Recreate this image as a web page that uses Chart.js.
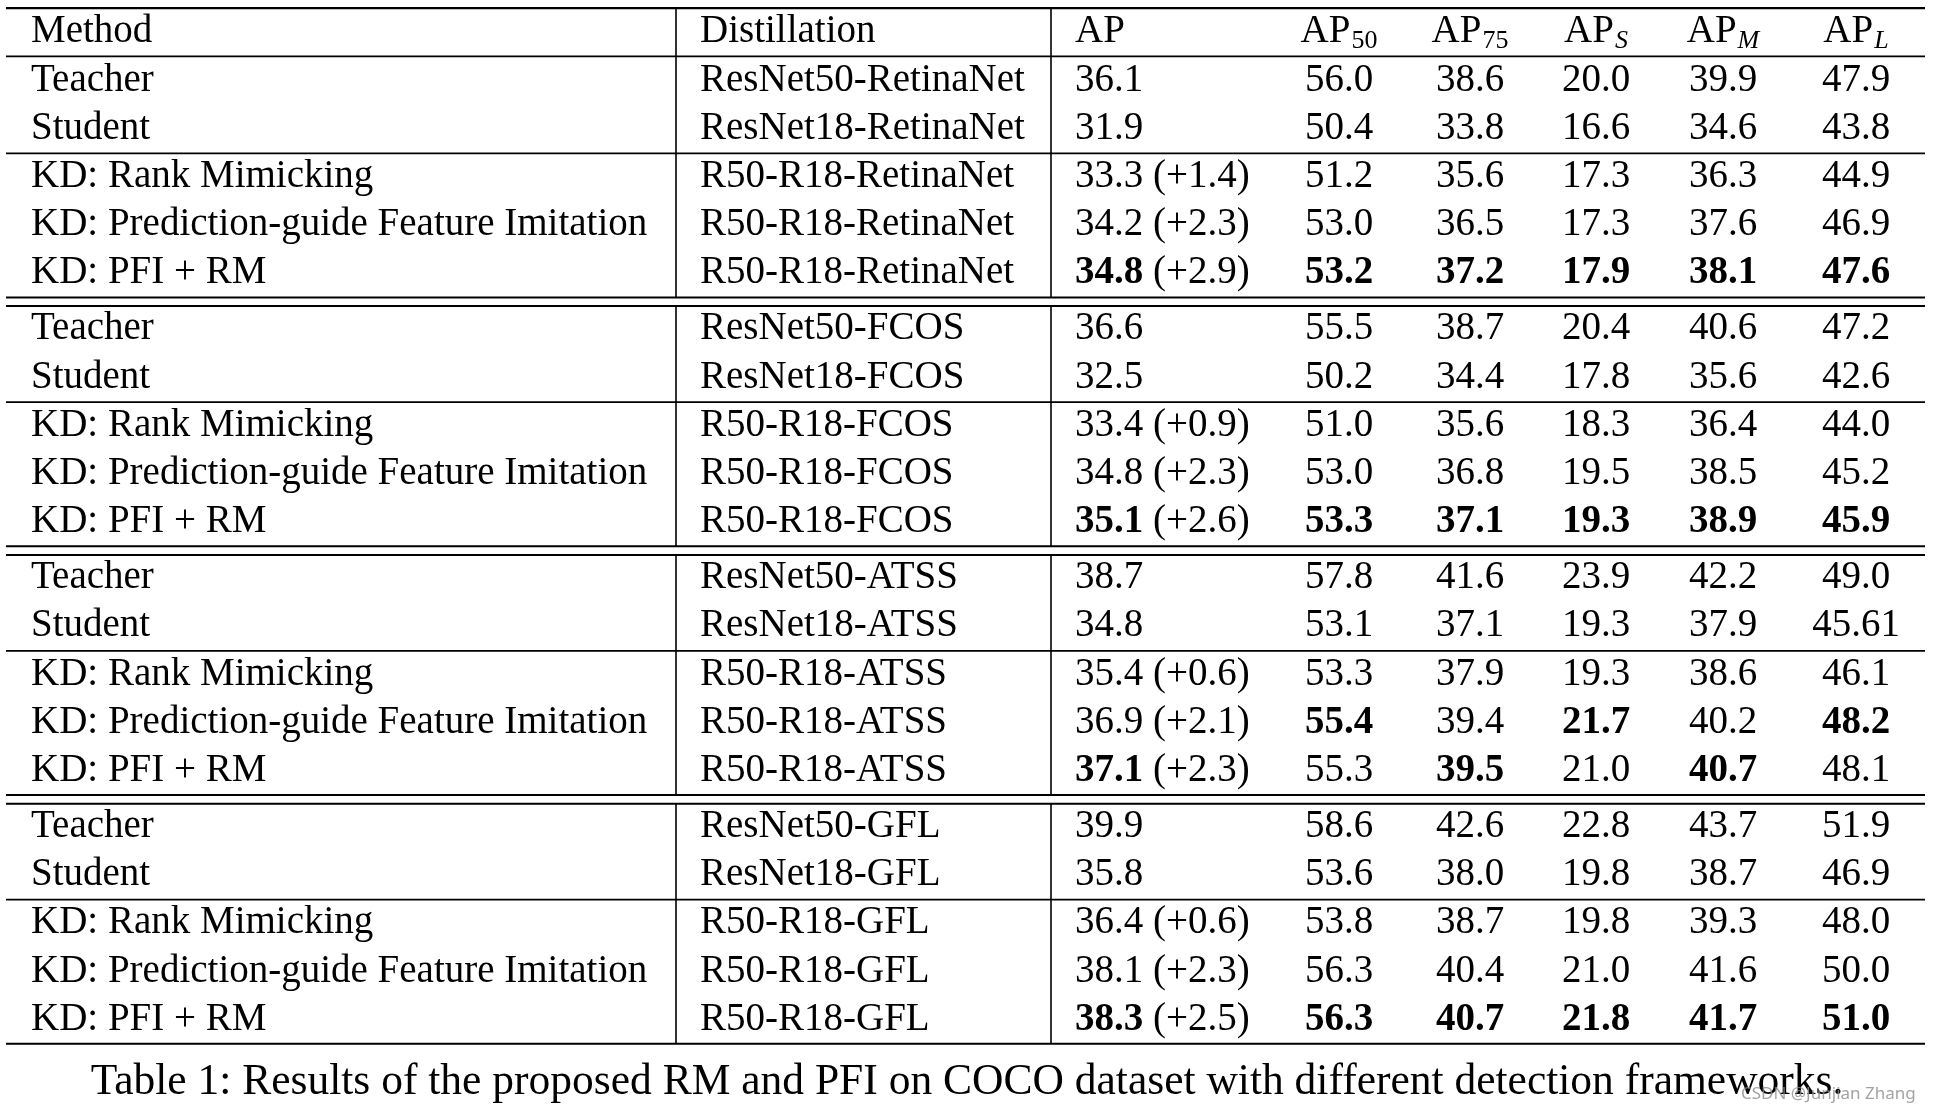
<!DOCTYPE html>
<html>
<head>
<meta charset="utf-8">
<script src="https://cdn.jsdelivr.net/npm/chart.js@4.4.1/dist/chart.umd.min.js"></script>
<style>
	html, body { margin: 0; padding: 0; background: #fff; }
	canvas { display: block; }
</style>
</head>
<body>
<canvas id="TableChart" width="1938" height="1110"></canvas>
<script>
// table content
const frameworks = ["RetinaNet", "FCOS", "ATSS", "GFL"]
const methods = ["Teacher", "Student", "KD: Rank Mimicking", "KD: Prediction-guide Feature Imitation", "KD: PFI + RM"]
const distillPrefix = ["ResNet50-", "ResNet18-", "R50-R18-", "R50-R18-", "R50-R18-"]

const headerMain = ["Method", "Distillation", "AP", "AP", "AP", "AP", "AP", "AP"]
const headerSub = ["", "", "", "50", "75", "S", "M", "L"]

const apValues = [
	36.1, 31.9, 33.3, 34.2, 34.8,
	36.6, 32.5, 33.4, 34.8, 35.1,
	38.7, 34.8, 35.4, 36.9, 37.1,
	39.9, 35.8, 36.4, 38.1, 38.3,
]
const apGain = [
	"", "", "+1.4", "+2.3", "+2.9",
	"", "", "+0.9", "+2.3", "+2.6",
	"", "", "+0.6", "+2.1", "+2.3",
	"", "", "+0.6", "+2.3", "+2.5",
]
const ap50 = [
	56.0, 50.4, 51.2, 53.0, 53.2,
	55.5, 50.2, 51.0, 53.0, 53.3,
	57.8, 53.1, 53.3, 55.4, 55.3,
	58.6, 53.6, 53.8, 56.3, 56.3,
]
const ap75 = [
	38.6, 33.8, 35.6, 36.5, 37.2,
	38.7, 34.4, 35.6, 36.8, 37.1,
	41.6, 37.1, 37.9, 39.4, 39.5,
	42.6, 38.0, 38.7, 40.4, 40.7,
]
const apS = [
	20.0, 16.6, 17.3, 17.3, 17.9,
	20.4, 17.8, 18.3, 19.5, 19.3,
	23.9, 19.3, 19.3, 21.7, 21.0,
	22.8, 19.8, 19.8, 21.0, 21.8,
]
const apM = [
	39.9, 34.6, 36.3, 37.6, 38.1,
	40.6, 35.6, 36.4, 38.5, 38.9,
	42.2, 37.9, 38.6, 40.2, 40.7,
	43.7, 38.7, 39.3, 41.6, 41.7,
]
const apL = [
	47.9, 43.8, 44.9, 46.9, 47.6,
	47.2, 42.6, 44.0, 45.2, 45.9,
	49.0, 45.61, 46.1, 48.2, 48.1,
	51.9, 46.9, 48.0, 50.0, 51.0,
]
// cells typeset in bold
const ALL = ["ap", "ap50", "ap75", "apS", "apM", "apL"]
const best = [
	[], [], [], [], ALL,
	[], [], [], [], ALL,
	[], [], [], ["ap50", "apS", "apL"], ["ap", "ap75", "apM"],
	[], [], [], [], ALL,
]
const caption = "Table 1: Results of the proposed RM and PFI on COCO dataset with different detection frameworks."
const watermark = "CSDN @Junjian Zhang"

// layout
const SERIF = '"Liberation Serif", "Times New Roman", serif'
const FONT_SIZE = 39
const SUB_SIZE = 26
const CAPTION_SIZE = 43.5
const BASE_DY = 13.5
const GROUP_GAP = 0.162
const columns = ["method", "distill", "ap", "ap50", "ap75", "apS", "apM", "apL"]
const colX = { method: 31, distill: 700, ap: 1075, ap50: 1339, ap75: 1470, apS: 1596, apM: 1723, apL: 1856 }
const colAlign = { method: "left", distill: "left", ap: "left", ap50: "center", ap75: "center", apS: "center", apM: "center", apL: "center" }
const RULE_LEFT = 6
const RULE_RIGHT = 1925
const V_LINES = [676, 1051]
const CAPTION_X = 967
const CAPTION_POS = 21.79
const WATERMARK_X = 1741

const fmt = (v) => {
	const s = String(v)
	return s.includes(".") ? s : v.toFixed(1)
}
const rowsPerGroup = methods.length
const rowPos = (i) => {
	const g = Math.floor(i / rowsPerGroup)
	const r = i % rowsPerGroup
	return 1 + g * (rowsPerGroup + GROUP_GAP) + r
}

const cellText = {
	method: frameworks.flatMap(() => methods),
	distill: frameworks.flatMap((fw) => distillPrefix.map((p) => p + fw)),
	ap: apValues.map(fmt),
	ap50: ap50.map(fmt),
	ap75: ap75.map(fmt),
	apS: apS.map(fmt),
	apM: apM.map(fmt),
	apL: apL.map(fmt),
}

const datasets = columns.map((key) => ({
	label: key,
	data: cellText[key].map((_, i) => ({ x: colX[key], y: rowPos(i) })),
	texts: cellText[key],
	pointRadius: 0,
	pointHoverRadius: 0,
}))
datasets.push({
	label: "header",
	data: columns.map((key) => ({ x: colX[key], y: 0 })),
	texts: headerMain,
	pointRadius: 0,
	pointHoverRadius: 0,
})

const font = (bold, size, italic) => `${italic ? "italic " : ""}${bold ? "bold " : ""}${size}px ${SERIF}`

const tablePlugin = {
	id: "tableText",
	beforeDatasetsDraw(chart) {
		const { ctx } = chart
		const y = chart.scales.y
		const x = chart.scales.x
		const nGroups = frameworks.length
		ctx.save()
		ctx.strokeStyle = "#000"
		const hline = (v, w) => {
			const py = y.getPixelForValue(v)
			ctx.lineWidth = w
			ctx.beginPath()
			ctx.moveTo(x.getPixelForValue(RULE_LEFT), py)
			ctx.lineTo(x.getPixelForValue(RULE_RIGHT), py)
			ctx.stroke()
		}
		const vline = (px, v0, v1) => {
			ctx.lineWidth = 1.6
			ctx.beginPath()
			ctx.moveTo(x.getPixelForValue(px), y.getPixelForValue(v0))
			ctx.lineTo(x.getPixelForValue(px), y.getPixelForValue(v1))
			ctx.stroke()
		}
		hline(-0.43, 2.2)
		hline(0.57, 1.8)
		let start = -0.43
		for (let g = 0; g < nGroups; g++) {
			const first = g * rowsPerGroup
			const last = first + rowsPerGroup - 1
			hline(rowPos(first + 1) + 0.58, 1.8)
			const end = rowPos(last) + 0.57
			hline(end, 2)
			V_LINES.forEach((px) => vline(px, start, end))
			if (g < nGroups - 1) {
				hline(rowPos(last) + 0.75, 2)
				start = rowPos(last) + 0.75
			}
		}
		ctx.restore()
	},
	afterDatasetsDraw(chart) {
		const { ctx } = chart
		ctx.save()
		ctx.fillStyle = "#000"
		ctx.textBaseline = "alphabetic"
		chart.data.datasets.forEach((ds, di) => {
			const meta = chart.getDatasetMeta(di)
			meta.data.forEach((pt, i) => {
				const by = pt.y + BASE_DY
				if (ds.label === "header") {
					const key = columns[i]
					const sub = headerSub[i]
					ctx.font = font(false, FONT_SIZE)
					const w = ctx.measureText(ds.texts[i]).width
					const subItalic = /[A-Z]/.test(sub)
					ctx.font = font(false, SUB_SIZE, subItalic)
					const sw = sub ? ctx.measureText(sub).width + 1 : 0
					let x0 = colAlign[key] === "center" ? pt.x - (w + sw) / 2 : pt.x
					ctx.textAlign = "left"
					ctx.font = font(false, FONT_SIZE)
					ctx.fillText(ds.texts[i], x0, by)
					if (sub) {
						ctx.font = font(false, SUB_SIZE, subItalic)
						ctx.fillText(sub, x0 + w + 1, by + 6)
					}
					return
				}
				const key = ds.label
				const bold = best[i].includes(key)
				ctx.textAlign = colAlign[key]
				ctx.font = font(bold, FONT_SIZE)
				ctx.fillText(ds.texts[i], pt.x, by)
				if (key === "ap" && apGain[i]) {
					const w = ctx.measureText(ds.texts[i]).width
					ctx.font = font(false, FONT_SIZE)
					ctx.textAlign = "left"
					ctx.fillText(" (" + apGain[i] + ")", pt.x + w, by)
				}
			})
		})
		// caption
		ctx.font = font(false, CAPTION_SIZE)
		ctx.textAlign = "center"
		ctx.fillText(caption, chart.scales.x.getPixelForValue(CAPTION_X), chart.scales.y.getPixelForValue(CAPTION_POS) + BASE_DY + 1)
		// watermark
		ctx.font = '17px "Noto Sans", sans-serif'
		ctx.textAlign = "left"
		ctx.fillStyle = "rgba(140, 140, 140, 0.8)"
		ctx.fillText(watermark, chart.scales.x.getPixelForValue(WATERMARK_X), chart.scales.y.getPixelForValue(CAPTION_POS) + BASE_DY + 6)
		ctx.restore()
	},
}

const ctx = document.getElementById("TableChart").getContext("2d")
const TableChart = new Chart(ctx, {
	type: "scatter",
	data: { datasets },
	options: {
		responsive: false,
		devicePixelRatio: 1,
		animation: false,
		events: [],
		layout: { padding: 0 },
		plugins: { legend: { display: false }, tooltip: { enabled: false } },
		scales: {
			x: { type: "linear", display: false, min: 0, max: 1938 },
			y: { type: "linear", display: false, reverse: true, min: -0.6, max: -0.6 + 1110 / 48.2 },
		},
	},
	plugins: [tablePlugin],
})
</script>
</body>
</html>
